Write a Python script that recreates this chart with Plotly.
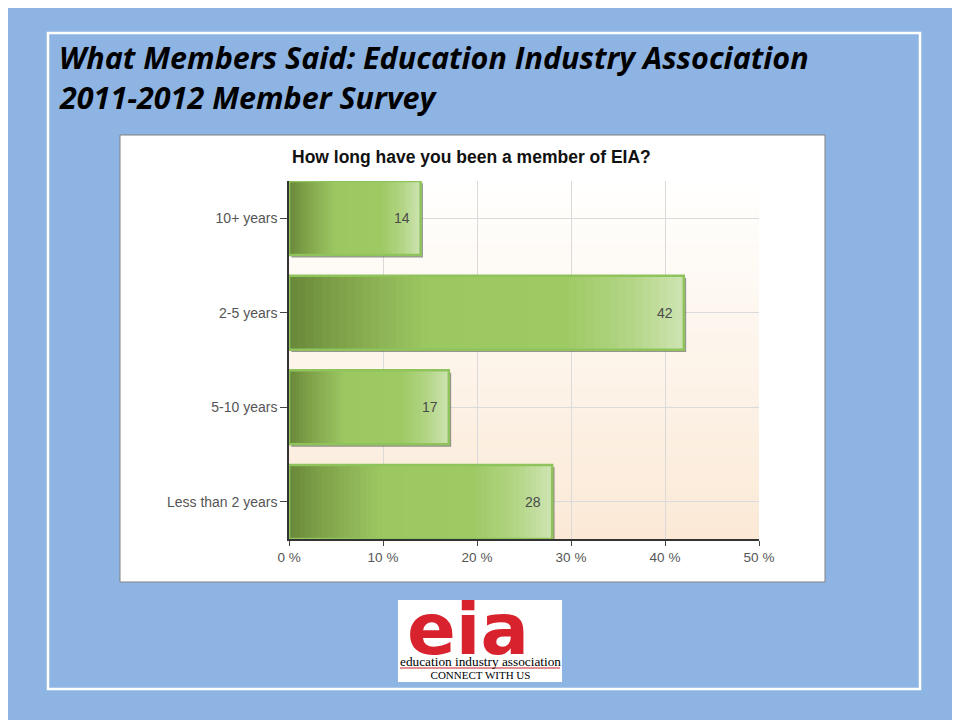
import plotly.graph_objects as go

# ---------------- data ----------------
categories = ["10+ years", "2-5 years", "5-10 years", "Less than 2 years"]
percent = [14, 42, 17, 28]
x_tick_values = [0, 10, 20, 30, 40, 50]
x_tick_labels = ["0 %", "10 %", "20 %", "30 %", "40 %", "50 %"]

W, H = 960, 720
PAGE_OFF = 8  # the page places the figure 8px from the top-left corner


def fx(px):
    return (px - PAGE_OFF) / W


def fy(py):
    return 1 - (py - PAGE_OFF) / H


bar_w = 0.783
cat_order = categories[::-1]  # bottom -> top

# horizontal gradient stops for the bars (fraction of bar length -> rgb)
stops = [
    (0.00, (104, 136, 58)),
    (0.12, (126, 160, 72)),
    (0.35, (156, 200, 98)),
    (0.70, (158, 202, 100)),
    (0.86, (178, 213, 132)),
    (1.00, (206, 228, 178)),
]


def grad_color(f):
    for (a, ca), (b, cb) in zip(stops[:-1], stops[1:]):
        if a <= f <= b:
            t = (f - a) / (b - a) if b > a else 0
            c = [round(ca[i] + (cb[i] - ca[i]) * t) for i in range(3)]
            return f"rgb({c[0]},{c[1]},{c[2]})"
    c = stops[-1][1]
    return f"rgb({c[0]},{c[1]},{c[2]})"


fig = go.Figure()

# shadow behind bars
fig.add_trace(go.Bar(
    y=categories, x=percent, orientation="h", base=0.25,
    width=bar_w, offset=-bar_w / 2 - 0.025,
    marker=dict(color="rgba(70,70,70,0.55)", line=dict(width=0)),
    hoverinfo="skip", showlegend=False,
))

# gradient fill built from overlapping bars of decreasing length
N = 48
for k in range(N):
    f = 1 - k / N
    fig.add_trace(go.Bar(
        y=categories, x=[v * f for v in percent], orientation="h",
        width=bar_w,
        marker=dict(color=grad_color(f - 0.5 / N), line=dict(width=0)),
        hoverinfo="skip", showlegend=False,
    ))

# outline bar
fig.add_trace(go.Bar(
    y=categories, x=percent, orientation="h", width=bar_w,
    marker=dict(color="rgba(0,0,0,0)", line=dict(color="#8fc35c", width=2.5)),
    showlegend=False,
))

# value labels
for c, v in zip(categories, percent):
    fig.add_annotation(
        x=v, y=c, xref="x", yref="y", text=str(v), showarrow=False,
        xanchor="right", xshift=-9,
        font=dict(family="Liberation Sans, Arial", size=14, color="#4a4a4a"),
    )

shapes = []
# white frame
shapes.append(dict(type="rect", xref="paper", yref="paper",
                   x0=fx(48), x1=fx(920), y0=fy(689), y1=fy(33),
                   line=dict(color="white", width=2.5), fillcolor="rgba(0,0,0,0)",
                   layer="below"))
# chart panel
shapes.append(dict(type="rect", xref="paper", yref="paper",
                   x0=fx(120), x1=fx(825), y0=fy(582), y1=fy(135),
                   line=dict(color="#808080", width=1), fillcolor="white",
                   layer="below"))
# plot background vertical gradient
NS = 40
top = (255, 255, 254)
bot = (251, 233, 214)
for i in range(NS):
    t = (i + 0.5) / NS  # 0 bottom -> 1 top
    c = [round(bot[j] + (top[j] - bot[j]) * t) for j in range(3)]
    shapes.append(dict(type="rect", xref="x domain", yref="y domain",
                       x0=0, x1=1, y0=i / NS, y1=(i + 1) / NS + 0.002,
                       line=dict(width=0), fillcolor=f"rgb({c[0]},{c[1]},{c[2]})",
                       layer="below"))
# logo box
shapes.append(dict(type="rect", xref="paper", yref="paper",
                   x0=fx(398), x1=fx(562), y0=fy(682), y1=fy(600),
                   line=dict(width=0), fillcolor="white", layer="below"))
shapes.append(dict(type="line", xref="paper", yref="paper",
                   x0=fx(400), x1=fx(560), y0=fy(668), y1=fy(668),
                   line=dict(color="#c8202a", width=1.2)))

# titles
title_font = dict(family="Open Sans, Lato", size=30.5, color="black")
fig.add_annotation(x=fx(57), y=fy(57), xref="paper", yref="paper",
                   text="<b><i>What Members Said: Education Industry Association</i></b>",
                   showarrow=False, xanchor="left", yanchor="middle", font=title_font)
fig.add_annotation(x=fx(57), y=fy(97), xref="paper", yref="paper",
                   text="<b><i>2011-2012 Member Survey</i></b>",
                   showarrow=False, xanchor="left", yanchor="middle", font=title_font)
fig.add_annotation(x=fx(471), y=fy(157), xref="paper", yref="paper",
                   text="<b>How long have you been a member of EIA?</b>",
                   showarrow=False, xanchor="center", yanchor="middle",
                   font=dict(family="Liberation Sans, Arial", size=17.5, color="#111"))

# logo text
fig.add_annotation(x=fx(468), y=fy(629), xref="paper", yref="paper",
                   text="<b>eia</b>", showarrow=False, xanchor="center", yanchor="middle",
                   font=dict(family="DejaVu Sans", size=72, color="#d8232f"))
fig.add_annotation(x=fx(480), y=fy(667), xref="paper", yref="paper",
                   text="<span style='font-size:13.3px'>education industry association</span>"
                        "<br><span style='font-size:11px'>CONNECT WITH US</span>",
                   showarrow=False, xanchor="center", yanchor="middle",
                   font=dict(family="Liberation Serif", size=10, color="black"))

fig.update_layout(
    width=W, height=H,
    margin=dict(l=0, r=0, t=0, b=0, autoexpand=False),
    paper_bgcolor="#8eb4e3",
    plot_bgcolor="rgba(0,0,0,0)",
    barmode="overlay",
    bargap=0.217,
    shapes=shapes,
    showlegend=False,
    xaxis=dict(
        domain=[fx(289), fx(759)], range=[0, 50], automargin=False,
        tickvals=x_tick_values, ticktext=x_tick_labels,
        ticks="outside", ticklen=5, tickcolor="#444",
        showline=True, linecolor="#333", linewidth=1.5,
        showgrid=True, gridcolor="#dadada", gridwidth=1,
        zeroline=False,
        tickfont=dict(family="Liberation Sans, Arial", size=13.5, color="#555"),
    ),
    yaxis=dict(
        domain=[fy(539), fy(181)], automargin=False,
        type="category", categoryorder="array", categoryarray=cat_order,
        range=[-bar_w / 2, len(categories) - 1 + bar_w / 2],
        ticks="outside", ticklen=7, tickcolor="#444",
        showline=True, linecolor="#333", linewidth=1.5,
        showgrid=True, gridcolor="#dadada", gridwidth=1,
        tickfont=dict(family="Liberation Sans, Arial", size=14, color="#555"),
    ),
)

fig.write_html("out.html")
